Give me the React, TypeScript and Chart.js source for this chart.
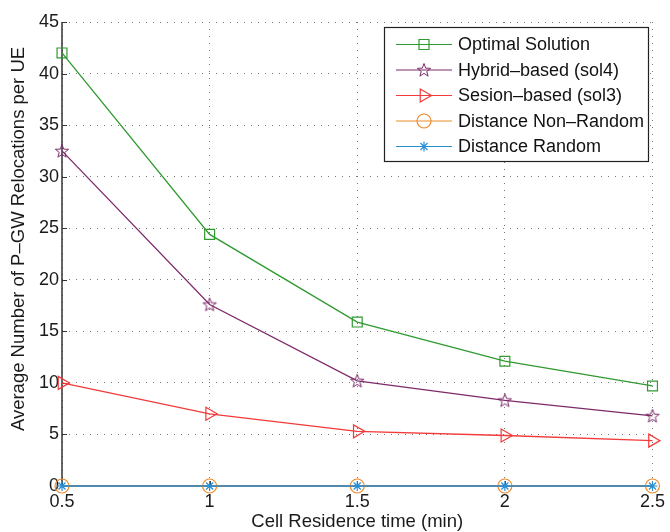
import React, { useEffect, useRef } from "react";
import { Chart, registerables } from "chart.js";

Chart.register(...registerables);

const cellTimes = [0.5, 1, 1.5, 2, 2.5];
const optimal = [42.0, 24.4, 15.9, 12.1, 9.7];
const hybrid = [32.5, 17.6, 10.2, 8.3, 6.8];
const session = [10.0, 7.0, 5.3, 4.9, 4.4];
const distNonRandom = [0, 0, 0, 0, 0];
const distRandom = [0, 0, 0, 0, 0];
const seriesLabels = [
  "Optimal Solution",
  "Hybrid\u2013based (sol4)",
  "Sesion\u2013based (sol3)",
  "Distance Non\u2013Random",
  "Distance Random",
];
const xTickLabels = ["0.5", "1", "1.5", "2", "2.5"];
const xTitle = "Cell Residence time (min)";
const yTitle = "Average Number of P\u2013GW Relocations per UE";

const COLORS = ["#2f9a2f", "#7d2a68", "#f23a3a", "#f08a2a", "#2a8ed4"];
const FONT = "'Liberation Sans', Arial, Helvetica, sans-serif";

function makePentagram(color: string): HTMLCanvasElement {
  const c = document.createElement("canvas");
  c.width = 16;
  c.height = 16;
  const ctx = c.getContext("2d")!;
  const cx = 8, cy = 8.5, R = 7, r = 2.9;
  ctx.beginPath();
  for (let i = 0; i < 10; i++) {
    const a = -Math.PI / 2 + (i * Math.PI) / 5;
    const rr = i % 2 === 0 ? R : r;
    const px = cx + rr * Math.cos(a);
    const py = cy + rr * Math.sin(a);
    if (i === 0) ctx.moveTo(px, py);
    else ctx.lineTo(px, py);
  }
  ctx.closePath();
  ctx.strokeStyle = color;
  ctx.lineWidth = 1;
  ctx.stroke();
  return c;
}

function drawMarker(ctx: CanvasRenderingContext2D, kind: number, x: number, y: number, color: string, star: HTMLCanvasElement) {
  ctx.save();
  ctx.strokeStyle = color;
  ctx.lineWidth = 1.2;
  ctx.beginPath();
  if (kind === 0) {
    ctx.rect(x - 5, y - 5, 10, 10);
    ctx.stroke();
  } else if (kind === 1) {
    ctx.drawImage(star, x - 8, y - 8);
  } else if (kind === 2) {
    ctx.moveTo(x + 7.5, y);
    ctx.lineTo(x - 3.75, y - 6.5);
    ctx.lineTo(x - 3.75, y + 6.5);
    ctx.closePath();
    ctx.stroke();
  } else if (kind === 3) {
    ctx.arc(x, y, 7, 0, Math.PI * 2);
    ctx.stroke();
  } else {
    const r = 5;
    for (let k = 0; k < 4; k++) {
      const a = (k * Math.PI) / 4;
      ctx.moveTo(x - r * Math.cos(a), y - r * Math.sin(a));
      ctx.lineTo(x + r * Math.cos(a), y + r * Math.sin(a));
    }
    ctx.stroke();
  }
  ctx.restore();
}

export default function App() {
  const ref = useRef<HTMLCanvasElement | null>(null);

  useEffect(() => {
    document.body.style.margin = "0";
    const canvas = ref.current!;
    const star = makePentagram(COLORS[1]);
    const seriesData = [optimal, hybrid, session, distNonRandom, distRandom];
    const styles: any[] = ["rect", star, "triangle", "circle", "star"];
    const radii = [7, 8, 7.5, 7, 5];
    const rotations = [0, 0, 90, 0, 0];

    const overlay = {
      id: "overlay",
      beforeDatasetsDraw(chart: any) {
        const { ctx, chartArea } = chart;
        const xs = chart.scales.x;
        const ys = chart.scales.y;
        ctx.save();
        ctx.strokeStyle = "#333";
        ctx.lineWidth = 1.5;
        ctx.beginPath();
        ctx.moveTo(chartArea.left, chartArea.top);
        ctx.lineTo(chartArea.left, chartArea.bottom);
        ctx.lineTo(chartArea.right, chartArea.bottom);
        ctx.stroke();
        ctx.lineWidth = 1;
        ctx.beginPath();
        ys.ticks.forEach((t: any) => {
          const py = Math.round(ys.getPixelForValue(t.value)) + 0.5;
          ctx.moveTo(chartArea.left, py);
          ctx.lineTo(chartArea.left + 5, py);
        });
        xs.ticks.forEach((t: any) => {
          const px = Math.round(xs.getPixelForValue(t.value)) + 0.5;
          ctx.moveTo(px, chartArea.bottom);
          ctx.lineTo(px, chartArea.bottom - 5);
        });
        ctx.stroke();
        ctx.restore();
      },
      afterDraw(chart: any) {
        const { ctx, chartArea } = chart;
        ctx.save();
        // axis titles
        ctx.fillStyle = "#1a1a1a";
        ctx.font = `18.5px ${FONT}`;
        ctx.textAlign = "center";
        ctx.textBaseline = "middle";
        ctx.fillText(xTitle, (chartArea.left + chartArea.right) / 2, 522);
        ctx.save();
        ctx.translate(19, 239);
        ctx.rotate(-Math.PI / 2);
        ctx.fillText(yTitle, 0, 0);
        ctx.restore();
        // legend
        const bx = 384, by = 27, bw = 264, bh = 134;
        ctx.fillStyle = "#ffffff";
        ctx.fillRect(bx, by, bw, bh);
        ctx.strokeStyle = "#222";
        ctx.lineWidth = 1.2;
        ctx.strokeRect(bx + 0.5, by + 0.5, bw, bh);
        chart.data.datasets.forEach((ds: any, i: number) => {
          const y = 44.5 + i * 25.5;
          ctx.strokeStyle = ds.borderColor;
          ctx.lineWidth = 1.2;
          ctx.beginPath();
          ctx.moveTo(396, y);
          ctx.lineTo(452, y);
          ctx.stroke();
          drawMarker(ctx, i, 424, y, ds.borderColor, star);
          ctx.fillStyle = "#111";
          ctx.font = `18px ${FONT}`;
          ctx.textAlign = "left";
          ctx.textBaseline = "middle";
          ctx.fillText(ds.label, 458, y + 1);
        });
        ctx.restore();
      },
    };

    const chart = new Chart(canvas, {
      type: "line",
      data: {
        datasets: seriesData.map((arr, i) => ({
          label: seriesLabels[i],
          data: cellTimes.map((x, j) => ({ x, y: arr[j] })),
          borderColor: COLORS[i],
          backgroundColor: "rgba(0,0,0,0)",
          borderWidth: 1.3,
          pointStyle: styles[i],
          pointRadius: radii[i],
          pointRotation: rotations[i],
          pointBorderColor: COLORS[i],
          pointBackgroundColor: "rgba(0,0,0,0)",
          pointBorderWidth: 1.2,
          tension: 0,
          fill: false,
          clip: false as any,
          order: 5 - i,
        })),
      },
      options: {
        responsive: false,
        animation: false,
        layout: { padding: { top: 22, right: 13, left: 0, bottom: 0 } },
        plugins: {
          legend: { display: false },
          tooltip: { enabled: false },
          title: { display: false },
        },
        scales: {
          x: {
            type: "linear",
            min: 0.5,
            max: 2.5,
            afterFit: (s: any) => {
              s.height = 46;
            },
            afterBuildTicks: (s: any) => {
              s.ticks = cellTimes.map((v) => ({ value: v }));
            },
            ticks: {
              callback: (_v: any, idx: number) => xTickLabels[idx],
              font: { family: FONT, size: 18 },
              color: "#1a1a1a",
              padding: 5,
              maxRotation: 0,
              autoSkip: false,
            },
            grid: { color: "#777", lineWidth: 1, drawTicks: false },
            border: { display: false, dash: [1, 6] },
          },
          y: {
            type: "linear",
            min: 0,
            max: 45,
            afterFit: (s: any) => {
              s.width = 62;
            },
            ticks: {
              stepSize: 5,
              font: { family: FONT, size: 18 },
              color: "#1a1a1a",
              padding: 3,
            },
            grid: { color: "#777", lineWidth: 1, drawTicks: false },
            border: { display: false, dash: [1, 6] },
          },
        },
      },
      plugins: [overlay],
    });
    return () => chart.destroy();
  }, []);

  return <canvas ref={ref} width={670} height={532} style={{ display: "block" }} />;
}
